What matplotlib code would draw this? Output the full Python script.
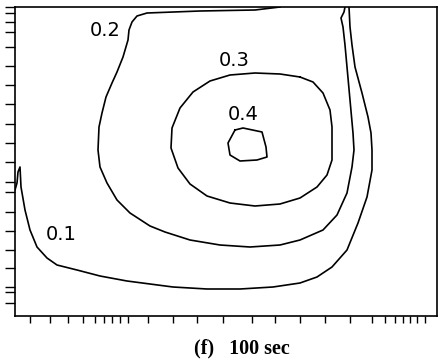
import matplotlib
matplotlib.use("Agg")
import matplotlib.pyplot as plt

c01_x = [349, 350, 352, 355, 362, 368, 371, 372, 372, 367, 358, 347, 332, 317, 300, 273, 240, 207, 173, 150, 127, 100, 77, 57, 47, 37, 30, 25, 21, 20, 18, 17, 15]
c01_y = [7, 27, 45, 67, 93, 117, 133, 150, 170, 197, 223, 250, 267, 277, 283, 287, 289, 289, 287, 284, 281, 276, 270, 265, 258, 247, 230, 210, 187, 167, 172, 183, 190]

c02_x = [345, 344, 341, 343, 345, 347, 350, 353, 354, 352, 347, 337, 323, 300, 280, 250, 220, 190, 165, 150, 130, 117, 107, 100, 98, 99, 102, 106, 112, 117, 123, 128, 129, 132, 137, 147, 200, 255, 280]
c02_y = [7, 12, 18, 27, 45, 67, 100, 133, 150, 167, 193, 215, 230, 240, 245, 247, 245, 240, 232, 226, 213, 200, 183, 167, 150, 127, 113, 97, 83, 72, 57, 40, 30, 22, 16, 13, 11, 10, 7]

c03_x = [300, 313, 323, 330, 332, 332, 327, 317, 300, 280, 255, 230, 207, 190, 178, 171, 172, 180, 193, 210, 230, 255, 280, 300]
c03_y = [77, 82, 93, 110, 127, 160, 175, 187, 198, 204, 206, 203, 196, 184, 168, 148, 128, 108, 92, 81, 75, 73, 74, 77]

c04_x = [235, 243, 262, 266, 267, 257, 240, 230, 228, 235]
c04_y = [130, 128, 132, 147, 157, 160, 161, 155, 143, 130]

labels = ["0.1", "0.2", "0.3", "0.4"]
label_x = [61, 105, 234, 243]
label_y = [235, 31, 60, 115]

yticks = [7, 13, 22, 32, 47, 66, 85, 104, 124, 143, 162, 182, 192, 212, 231, 250, 268, 287, 292, 303]
xticks = [30, 50, 68, 83, 95, 104, 112, 120, 128, 148, 173, 197, 223, 252, 275, 300, 325, 350, 372, 385, 395, 403, 410, 417, 425]

caption = "(f)   100 sec"

fig = plt.figure(figsize=(4.43, 3.64), dpi=100)
ax = fig.add_axes([15/443, 1-316/364, (437-15)/443, (316-7)/364])
ax.set_xlim(15, 437)
ax.set_ylim(316, 7)

for xs, ys in [(c01_x, c01_y), (c02_x, c02_y), (c03_x, c03_y), (c04_x, c04_y)]:
    ax.plot(xs, ys, color="black", lw=1.2, solid_joinstyle="round")

for t, x, y in zip(labels, label_x, label_y):
    ax.text(x, y, " ".join(t).replace(" . ", "."), fontsize=14, ha="center", va="center",
            family="DejaVu Sans")

ax.set_xticks(xticks)
ax.set_yticks(yticks)
ax.set_xticklabels([])
ax.set_yticklabels([])
ax.tick_params(axis="both", direction="out", width=1.0, colors="black")
ax.tick_params(axis="y", length=7)
ax.tick_params(axis="x", length=5)
for s in ax.spines.values():
    s.set_linewidth(1.2)

fig.text(242/443, 1-348/364, caption, fontsize=14.5, ha="center", va="center",
         family="Liberation Serif", weight="bold")

fig.savefig("out.png", dpi=100)
